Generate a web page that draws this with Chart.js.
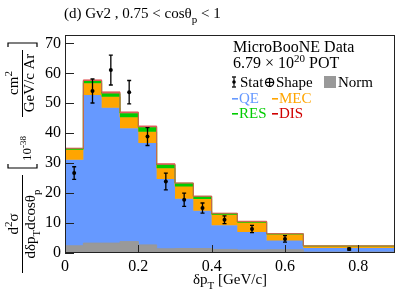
<!DOCTYPE html>
<html>
<head>
<meta charset="utf-8">
<script src="https://cdn.jsdelivr.net/npm/chart.js@4.4.1/dist/chart.umd.min.js"></script>
<style>
  html, body { margin: 0; padding: 0; background: #fff; }
  #wrap { width: 407px; height: 295px; }
</style>
</head>
<body>
<div id="wrap"><canvas id="c"></canvas></div>
<script>
// bin edges in delta pT [GeV/c]
const edges = [0, 0.05, 0.1, 0.15, 0.2, 0.25, 0.3, 0.35, 0.4, 0.47, 0.55, 0.65, 0.9];
// stacked MC prediction (GENIE v2), per bin
const qe  = [31.1, 52.8, 48.5, 41.7, 36.7, 24.7, 18.1, 14.1, 9.3, 7.0, 4.2, 1.7];
const mec = [3.4, 3.9, 3.7, 3.6, 3.8, 3.6, 4.1, 3.9, 3.5, 3.2, 2.1, 0.6];
const res = [0.4, 0.7, 1.1, 1.4, 1.5, 1.2, 1.1, 0.9, 0.4, 0.2, 0.1, 0.05];
const dis = [0.1, 0.4, 0.5, 0.4, 0.4, 0.3, 0.1, 0.1, 0.1, 0.2, 0.05, 0.02];
// normalisation uncertainty band
const norm = [2.4, 3.3, 3.3, 3.8, 2.7, 1.4, 1.5, 1.5, 1.2, 1.0, 1.1, 0.3];
// MicroBooNE data with stat+shape errors
const dataY   = [26.7, 54.1, 61.1, 53.7, 38.9, 23.9, 17.8, 15.0, 11.1, 8.0, 4.7, 1.3];
const dataErr = [2.1, 4.0, 5.0, 3.9, 3.0, 2.8, 2.2, 1.7, 1.3, 1.2, 1.1, 0.3];
const xTicks = [0, 0.2, 0.4, 0.6, 0.8];
const yTicks = [0, 10, 20, 30, 40, 50, 60, 70];

const SERIF = '"Liberation Serif", "DejaVu Serif", serif';
const C_QE = '#6699ff', C_MEC = '#ffa500', C_RES = '#00cc00', C_DIS = '#e05a5a', C_NORM = '#999999';

// histogram as stepped line: one point per left edge + closing right edge
function steps(vals) {
    const pts = vals.map((v, i) => ({ x: edges[i], y: v }));
    pts.push({ x: edges[edges.length - 1], y: vals[vals.length - 1] });
    return pts;
}
function cum(...arrs) {
    return arrs[0].map((_, i) => arrs.reduce((s, a) => s + a[i], 0));
}

const centers = edges.slice(0, -1).map((e, i) => (e + edges[i + 1]) / 2);

function histSet(label, vals, color, fill) {
    return {
        label: label,
        data: steps(vals),
        stepped: true,
        borderColor: color,
        borderWidth: 1,
        backgroundColor: color,
        pointRadius: 0,
        fill: fill
    };
}

// rich text helper: parts = [[text, 'sub'|'sup'|undefined], ...]
function rich(ctx, parts, x, y, size, align) {
    const big = size + 'px ' + SERIF, small = Math.round(size * 0.7) + 'px ' + SERIF;
    let w = 0;
    parts.forEach(p => { ctx.font = p[1] ? small : big; w += ctx.measureText(p[0]).width; });
    let cx = align === 'center' ? x - w / 2 : x;
    ctx.textAlign = 'left';
    ctx.textBaseline = 'alphabetic';
    parts.forEach(p => {
        ctx.font = p[1] ? small : big;
        const dy = p[1] === 'sub' ? size * 0.3 : p[1] === 'sup' ? -size * 0.4 : 0;
        ctx.fillText(p[0], cx, y + dy);
        cx += ctx.measureText(p[0]).width;
    });
}

const decorations = {
    id: 'decorations',
    afterDatasetsDraw(chart) {
        const ctx = chart.ctx, a = chart.chartArea;
        const xs = chart.scales.x, ys = chart.scales.y;
        ctx.save();

        // error bars
        ctx.strokeStyle = '#000';
        ctx.lineWidth = 1.3;
        dataY.forEach((v, i) => {
            const px = xs.getPixelForValue(centers[i]);
            const top = ys.getPixelForValue(v + dataErr[i]);
            const bot = ys.getPixelForValue(v - dataErr[i]);
            ctx.beginPath();
            ctx.moveTo(px, top); ctx.lineTo(px, bot);
            ctx.moveTo(px - 2, top); ctx.lineTo(px + 2, top);
            ctx.moveTo(px - 2, bot); ctx.lineTo(px + 2, bot);
            ctx.stroke();
        });

        // frame and inward ticks
        ctx.strokeStyle = '#222';
        ctx.lineWidth = 1;
        ctx.strokeRect(a.left + 0.5, a.top + 0.5, a.right - a.left - 1, a.bottom - a.top - 1);
        ctx.beginPath();
        yTicks.forEach(t => {
            const py = Math.round(ys.getPixelForValue(t)) + 0.5;
            ctx.moveTo(a.left, py); ctx.lineTo(a.left + 9, py);
        });
        xTicks.forEach(t => {
            const px = Math.round(xs.getPixelForValue(t)) + 0.5;
            ctx.moveTo(px, a.bottom); ctx.lineTo(px, a.bottom - 8);
        });
        ctx.stroke();

        // title
        ctx.fillStyle = '#000';
        rich(ctx, [['(d) Gv2 , 0.75 < cos\u03b8'], ['p', 'sub'], [' < 1']], 64, 18, 15);

        // x axis title
        rich(ctx, [['\u03b4p'], ['T', 'sub'], [' [GeV/c]']], 230, 284, 15, 'center');

        // legend
        ctx.fillStyle = '#000';
        rich(ctx, [['MicroBooNE Data']], 233, 52, 16);
        rich(ctx, [['6.79 \u00d7 10'], ['20', 'sup'], [' POT']], 233, 68, 16);
        ctx.lineWidth = 1.3;
        ctx.beginPath();
        ctx.moveTo(234, 77); ctx.lineTo(234, 87);
        ctx.moveTo(232, 77); ctx.lineTo(236, 77);
        ctx.moveTo(232, 87); ctx.lineTo(236, 87);
        ctx.stroke();
        ctx.beginPath(); ctx.arc(234, 82, 1.8, 0, Math.PI * 2); ctx.fill();
        rich(ctx, [['Stat\u2295Shape']], 240, 87, 15);
        ctx.fillStyle = C_NORM;
        ctx.fillRect(324, 76, 12, 12);
        ctx.fillStyle = '#000';
        rich(ctx, [['Norm']], 338, 87, 15);
        const leg = [['QE', C_QE, 232, 103], ['MEC', C_MEC, 272, 103], ['RES', C_RES, 232, 118], ['DIS', '#d00000', 272, 118]];
        leg.forEach(l => {
            ctx.fillStyle = l[1];
            ctx.fillRect(l[2], l[3] - 5, 6, 1.6);
            rich(ctx, [[l[0]]], l[2] + 7, l[3], 15);
        });

        // y axis title, rotated
        ctx.fillStyle = '#000';
        ctx.strokeStyle = '#000';
        ctx.translate(22, 295);
        ctx.rotate(-Math.PI / 2);
        // first fraction
        ctx.lineWidth = 1;
        ctx.beginPath(); ctx.moveTo(22, 0.5); ctx.lineTo(120, 0.5); ctx.stroke();
        rich(ctx, [['d'], ['2', 'sup'], ['\u03c3']], 71, -4, 15, 'center');
        rich(ctx, [['d\u03b4p'], ['T', 'sub'], ['dcos\u03b8'], ['p', 'sub']], 71, 13, 15, 'center');
        // brackets
        ctx.lineWidth = 1.2;
        ctx.beginPath();
        ctx.moveTo(131, -14); ctx.lineTo(127, -14); ctx.lineTo(127, 15); ctx.lineTo(131, 15);
        ctx.moveTo(248, -14); ctx.lineTo(252, -14); ctx.lineTo(252, 15); ctx.lineTo(248, 15);
        ctx.stroke();
        rich(ctx, [['10'], ['-38', 'sup']], 134, 9, 13);
        // second fraction
        ctx.lineWidth = 1;
        ctx.beginPath(); ctx.moveTo(178, 0.5); ctx.lineTo(245, 0.5); ctx.stroke();
        rich(ctx, [['cm'], ['2', 'sup']], 212, -4, 15, 'center');
        rich(ctx, [['GeV/c Ar']], 212, 12, 15, 'center');

        ctx.restore();
    }
};

new Chart(document.getElementById('c'), {
    type: 'line',
    data: {
        datasets: [
            {
                label: 'Data',
                data: dataY.map((v, i) => ({ x: centers[i], y: v })),
                showLine: false,
                pointRadius: 2,
                pointBackgroundColor: '#000',
                pointBorderColor: '#000',
                pointBorderWidth: 0
            },
            histSet('Norm', norm, C_NORM, 'origin'),
            histSet('DIS', cum(qe, mec, res, dis), C_DIS, 3),
            histSet('RES', cum(qe, mec, res), C_RES, 4),
            histSet('MEC', cum(qe, mec), C_MEC, 5),
            histSet('QE', qe, C_QE, 'origin')
        ]
    },
    options: {
        responsive: true,
        maintainAspectRatio: false,
        animation: false,
        layout: { padding: { top: 35, right: 12, left: 0, bottom: 0 } },
        plugins: {
            legend: { display: false },
            tooltip: { enabled: false }
        },
        scales: {
            x: {
                type: 'linear',
                min: 0,
                max: 0.9,
                afterFit: s => { s.height = 42; },
                afterBuildTicks: s => { s.ticks = xTicks.map(v => ({ value: v })); },
                grid: { display: false, drawTicks: false },
                border: { display: false },
                ticks: { color: '#000', padding: 4, font: { family: SERIF, size: 16 } }
            },
            y: {
                min: 0,
                max: 72.8,
                afterFit: s => { s.width = 65; },
                afterBuildTicks: s => { s.ticks = yTicks.map(v => ({ value: v })); },
                grid: { display: false, drawTicks: false },
                border: { display: false },
                ticks: { color: '#000', padding: 4, font: { family: SERIF, size: 16 } }
            }
        }
    },
    plugins: [decorations]
});
</script>
</body>
</html>
